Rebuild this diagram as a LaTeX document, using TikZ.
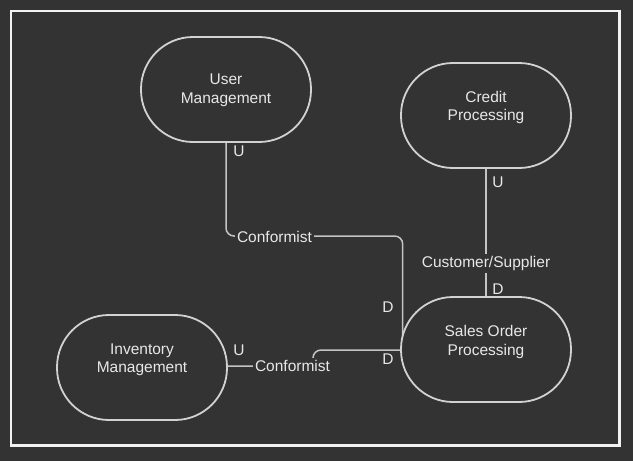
\documentclass[tikz,border=0pt]{standalone}
\usepackage{fontspec}
\setmainfont{Liberation Sans}
\pgfdeclarelayer{back}
\pgfdeclarelayer{lines}
\pgfsetlayers{back,lines,main}
\definecolor{bgc}{HTML}{333333}
\definecolor{edgec}{HTML}{D2D2D2}
\definecolor{linec}{HTML}{C4C4C4}
\definecolor{txtc}{HTML}{E8E8E8}
\definecolor{framec}{HTML}{F2F2F2}
\begin{document}
\begin{tikzpicture}[x=1pt,y=-1pt,
  ctx/.style={draw=edgec, line width=1.8pt, fill=bgc, rounded corners=52pt,
    minimum width=170pt, minimum height=105pt, inner sep=0pt},
  ctxtext/.style={text=txtc, align=center, font=\fontsize{15.5}{18.5}\selectfont, inner sep=0pt},
  rel/.style={text=txtc, font=\fontsize{15.5}{18.5}\selectfont, fill=bgc, inner sep=2.5pt,
    text height=11pt, text depth=3.5pt, anchor=base},
  udlab/.style={text=txtc, font=\fontsize{15.5}{18.5}\selectfont, inner sep=0pt, anchor=base},
  conn/.style={draw=linec, line width=1.5pt, rounded corners=8pt}
]
\useasboundingbox (0,0) rectangle (633,461);
\begin{pgfonlayer}{back}
  \fill[bgc] (0,0) rectangle (633,461);
  \draw[framec, line width=2.3pt] (11,11) rectangle (619.5,445.5);
\end{pgfonlayer}

% contexts
\node[ctx] (um) at (226,89.5) {};
\node[ctx] (cp) at (486,115.5) {};
\node[ctx] (so) at (486,349.5) {};
\node[ctx] (im) at (142,367.5) {};

\node[ctxtext] (umt) at (226,90.5) {User\\Management};
\node[ctxtext] (cpt) at (486,107.5) {Credit\\Processing};
\node[ctxtext] (sot) at (486,342) {Sales Order\\Processing};
\node[ctxtext] (imt) at (142,360) {Inventory\\Management};

% connectors
\coordinate (k1) at (226,236);
\coordinate (k2) at (402.7,236);
\coordinate (k3) at (402.7,349.5);
\coordinate (k4) at (313,366);
\coordinate (k5) at (313,350);
\begin{pgfonlayer}{lines}
  \draw[conn] (um.south) -- (k1) -- (k2) -- (k3);
  \draw[conn] (im.center |- k4) -- (k4) -- (k5) -- (so.center |- k5);
  \draw[conn] (cp.south) -- (so.north);
\end{pgfonlayer}

% relationship labels
\node[rel] (conf1) at (274.5,242) {Conformist};
\node[rel] (conf2) at (292.5,371) {Conformist};
\node[rel] (cs) at (486,267) {Customer/Supplier};

% upstream / downstream marks
\node[udlab] (u1) at (239,156) {U};
\node[udlab] (d1) at (388,312) {D};
\node[udlab] (d2) at (388,364) {D};
\node[udlab] (u2) at (239,355) {U};
\node[udlab] (u3) at (498,187) {U};
\node[udlab] (d3) at (498,294) {D};
\end{tikzpicture}
\end{document}
